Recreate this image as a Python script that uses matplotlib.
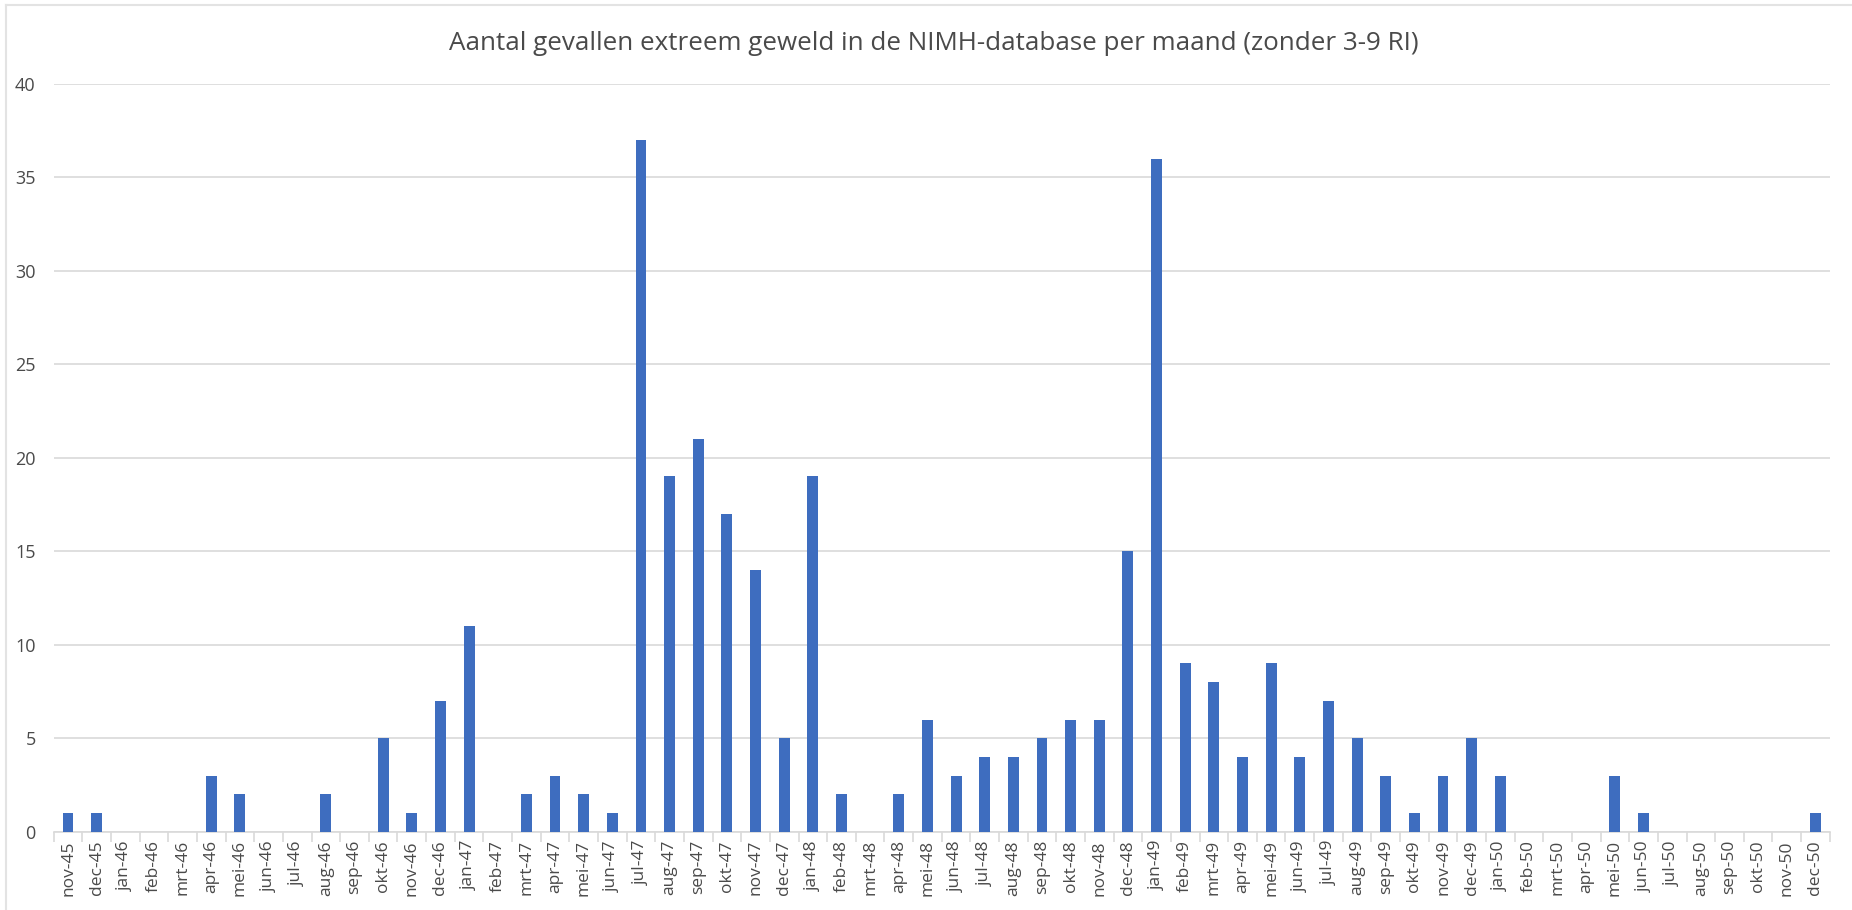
import numpy as np
import matplotlib.pyplot as plt
from matplotlib.lines import Line2D

# maanden nov-45 t/m dec-50
maanden = ["jan", "feb", "mrt", "apr", "mei", "jun", "jul", "aug", "sep", "okt", "nov", "dec"]
labels = ["nov-45", "dec-45"]
for jaar in range(46, 51):
    labels += [f"{m}-{jaar}" for m in maanden]

aantallen = [
    1, 1,                                        # 1945
    0, 0, 0, 3, 2, 0, 0, 2, 0, 5, 1, 7,          # 1946
    11, 0, 2, 3, 2, 1, 37, 19, 21, 17, 14, 5,    # 1947
    19, 2, 0, 2, 6, 3, 4, 4, 5, 6, 6, 15,        # 1948
    36, 9, 8, 4, 9, 4, 7, 5, 3, 1, 3, 5,         # 1949
    3, 0, 0, 0, 3, 1, 0, 0, 0, 0, 0, 1,          # 1950
]

yticks = [0, 5, 10, 15, 20, 25, 30, 35, 40]
titel = "Aantal gevallen extreem geweld in de NIMH-database per maand (zonder 3-9 RI)"

plt.rcParams['font.family'] = ['Open Sans', 'DejaVu Sans']
tekst = '#4A4A4A'
grid = '#D9D9D9'

fig = plt.figure(figsize=(18.52, 9.10), dpi=100)
ax = fig.add_axes([0.029, 0.086, 0.959, 0.822])

x = np.arange(len(labels))
ax.bar(x, aantallen, width=0.38, color='#3E6DBF', zorder=3)

ax.set_xlim(-0.5, len(labels) - 0.5)
ax.set_ylim(0, 40)
ax.set_yticks(yticks)
ax.set_yticklabels([str(v) for v in yticks], color=tekst, fontsize=13)
ax.yaxis.grid(True, color=grid, linewidth=1.2, zorder=0)
ax.tick_params(axis='y', length=0, pad=13)

ax.set_xticks(x)
ax.set_xticklabels(labels, rotation=90, color=tekst, fontsize=12.5)
ax.tick_params(axis='x', which='major', length=0, pad=6)
ax.set_xticks(np.arange(-0.5, len(labels), 1), minor=True)
ax.tick_params(axis='x', which='minor', length=7, color=grid, width=1.2)

for s in ['top', 'right', 'left']:
    ax.spines[s].set_visible(False)
ax.spines['bottom'].set_color(grid)
ax.spines['bottom'].set_linewidth(1.2)

fig.text(0.504, 0.952, titel, ha='center', va='center', fontsize=18.7, color=tekst)

# lichte spreadsheetrand
fig.add_artist(Line2D([0.003, 1], [0.994, 0.994], color='#E3E3E3', linewidth=1.5))
fig.add_artist(Line2D([0.003, 0.003], [0, 0.994], color='#E3E3E3', linewidth=1.5))

fig.savefig('out.png', dpi=100)
